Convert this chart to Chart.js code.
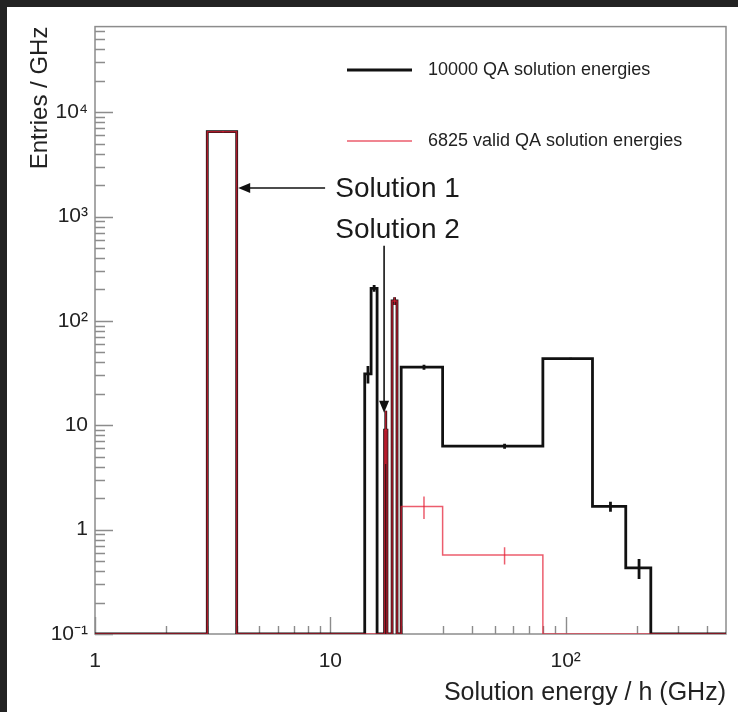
<!DOCTYPE html>
<html>
<head>
<meta charset="utf-8">
<script src="https://cdn.jsdelivr.net/npm/chart.js@4.4.1/dist/chart.umd.min.js"></script>
<style>
  html, body { margin: 0; padding: 0; background: #232323; }
  #wrap { position: absolute; left: 7px; top: 7px; width: 731px; height: 705px; background: #ffffff; }
  canvas { display: block; }
</style>
</head>
<body>
<div id="wrap"><canvas id="c" width="731" height="705"></canvas></div>
<script>
// Variable-width energy bins (GHz) and entries per GHz in each bin
const binEdges = [1, 3, 4, 14, 14.9, 15.8, 17.0, 17.4, 18.3, 19.2, 20, 30, 80, 130, 180, 230, 480];
const allEnergies = [0, 6500, 0, 31, 205, 0, 9, 0, 155, 0, 36, 6.3, 43.5, 1.67, 0.43, 0];
const validEnergies = [0, 6500, 0, 0, 0, 0, 9, 0, 155, 0, 1.67, 0.57, 0, 0, 0, 0];
const seriesLabels = ['10000 QA solution energies', '6825 valid QA solution energies'];

const xTickValues = [1, 10, 100];
const xTickLabels = ['1', '10', '10²'];
const yTickValues = [0.1, 1, 10, 100, 1000, 10000];
const yTickLabels = ['10⁻¹', '1', '10', '10²', '10³', '10⁴'];

const X_MIN = 1, X_MAX = 480, Y_MIN = 0.1, Y_MAX = 6.6e4;
const FONT = "'Liberation Sans', Arial, Helvetica, sans-serif";
const BLACK = '#111111';
const RED = 'rgba(228, 30, 52, 0.72)';
const FRAME = '#8c8c8c';

// Annotation anchors in data units (GHz, entries/GHz)
const notes = [
  { text: 'Solution 1', x: 10.5, y: 1830, arrowFrom: [9.5, 1875], arrowTo: [4.06, 1875] },
  { text: 'Solution 2', x: 10.5, y: 745, arrowFrom: [16.92, 524], arrowTo: [16.92, 13.2] }
];

// Step outline of a histogram; empty bins sit on the lower edge of the log axis
function outline(edges, vals) {
  const pts = [{ x: edges[0], y: Y_MIN }];
  vals.forEach((v, i) => {
    const y = Math.max(v, Y_MIN);
    pts.push({ x: edges[i], y: y }, { x: edges[i + 1], y: y });
  });
  pts.push({ x: edges[edges.length - 1], y: Y_MIN });
  return pts;
}

const seriesValues = [allEnergies, validEnergies];

function drawArrow(ctx, x0, y0, x1, y1) {
  const ang = Math.atan2(y1 - y0, x1 - x0);
  const len = 12, half = 5;
  ctx.beginPath();
  ctx.moveTo(x0, y0);
  ctx.lineTo(x1 - Math.cos(ang) * len * 0.8, y1 - Math.sin(ang) * len * 0.8);
  ctx.stroke();
  ctx.beginPath();
  ctx.moveTo(x1, y1);
  ctx.lineTo(x1 - Math.cos(ang) * len - Math.sin(ang) * half, y1 - Math.sin(ang) * len + Math.cos(ang) * half);
  ctx.lineTo(x1 - Math.cos(ang) * len + Math.sin(ang) * half, y1 - Math.sin(ang) * len - Math.cos(ang) * half);
  ctx.closePath();
  ctx.fill();
}

const histDecor = {
  id: 'histDecor',
  beforeDatasetsDraw(chart) {
    const { ctx, chartArea: a, scales: { x, y } } = chart;
    ctx.save();
    ctx.strokeStyle = FRAME;
    ctx.lineWidth = 1.5;
    ctx.strokeRect(a.left, a.top, a.right - a.left, a.bottom - a.top);
    ctx.lineWidth = 1.4;
    ctx.beginPath();
    for (let e = -1; e <= 4; e++) {
      for (let m = 1; m <= 9; m++) {
        const v = m * Math.pow(10, e);
        if (v < Y_MIN * 0.999 || v > Y_MAX) continue;
        const py = Math.round(y.getPixelForValue(v)) + 0.5;
        ctx.moveTo(a.left, py);
        ctx.lineTo(a.left + (m === 1 ? 18 : 10), py);
      }
    }
    for (let e = 0; e <= 2; e++) {
      for (let m = 1; m <= 9; m++) {
        const v = m * Math.pow(10, e);
        if (v < X_MIN * 0.999 || v > X_MAX) continue;
        const px = Math.round(x.getPixelForValue(v)) + 0.5;
        ctx.moveTo(px, a.bottom);
        ctx.lineTo(px, a.bottom - (m === 1 ? 17 : 8));
      }
    }
    ctx.stroke();
    ctx.restore();
  },
  afterDatasetDraw(chart, args) {
    // statistical error bars at bin centres: sqrt(N)/width
    const { ctx, chartArea: a, scales: { x, y } } = chart;
    const ds = chart.data.datasets[args.index];
    const vals = seriesValues[args.index];
    ctx.save();
    ctx.beginPath();
    ctx.rect(a.left, a.top, a.right - a.left, a.bottom - a.top);
    ctx.clip();
    ctx.strokeStyle = ds.borderColor;
    ctx.lineWidth = ds.borderWidth;
    ctx.beginPath();
    vals.forEach((v, i) => {
      if (v <= 0) return;
      const w = binEdges[i + 1] - binEdges[i];
      const err = Math.sqrt(v * w) / w;
      const px = x.getPixelForValue((binEdges[i] + binEdges[i + 1]) / 2);
      const lo = Math.max(v - err, Y_MIN);
      ctx.moveTo(px, y.getPixelForValue(lo));
      ctx.lineTo(px, y.getPixelForValue(v + err));
    });
    ctx.stroke();
    ctx.restore();
  },
  afterDraw(chart) {
    const { ctx, scales: { x, y } } = chart;
    ctx.save();
    // legend
    const rows = [
      { color: BLACK, width: 3, ty: 63 },
      { color: RED, width: 1.5, ty: 134 }
    ];
    rows.forEach((r, i) => {
      ctx.strokeStyle = r.color;
      ctx.lineWidth = r.width;
      ctx.beginPath();
      ctx.moveTo(340, r.ty);
      ctx.lineTo(405, r.ty);
      ctx.stroke();
      ctx.fillStyle = '#222';
      ctx.font = '18px ' + FONT;
      ctx.textBaseline = 'middle';
      ctx.textAlign = 'left';
      ctx.fillText(seriesLabels[i], 421, r.ty);
    });
    // annotations
    ctx.strokeStyle = '#111';
    ctx.lineWidth = 1.6;
    notes.forEach(n => {
      ctx.fillStyle = '#111';
      drawArrow(ctx,
        x.getPixelForValue(n.arrowFrom[0]), y.getPixelForValue(n.arrowFrom[1]),
        x.getPixelForValue(n.arrowTo[0]), y.getPixelForValue(n.arrowTo[1]));
      ctx.font = '28px ' + FONT;
      ctx.textBaseline = 'middle';
      ctx.textAlign = 'left';
      ctx.fillStyle = '#1a1a1a';
      ctx.fillText(n.text, x.getPixelForValue(n.x), y.getPixelForValue(n.y));
    });
    ctx.restore();
  }
};

new Chart(document.getElementById('c'), {
  type: 'line',
  data: {
    datasets: [
      {
        label: seriesLabels[0],
        data: outline(binEdges, allEnergies),
        borderColor: BLACK,
        borderWidth: 2.8,
        pointRadius: 0,
        tension: 0,
        fill: false,
        borderJoinStyle: 'miter',
        order: 1
      },
      {
        label: seriesLabels[1],
        data: outline(binEdges, validEnergies),
        borderColor: RED,
        borderWidth: 1.5,
        pointRadius: 0,
        tension: 0,
        fill: false,
        borderJoinStyle: 'miter',
        order: 0
      }
    ]
  },
  options: {
    responsive: false,
    animation: false,
    events: [],
    layout: { padding: { left: 0, right: 12, top: 18, bottom: 0 } },
    plugins: { legend: { display: false }, tooltip: { enabled: false } },
    scales: {
      x: {
        type: 'logarithmic',
        position: 'bottom',
        min: X_MIN,
        max: X_MAX,
        grid: { display: false, drawTicks: false },
        border: { display: false },
        afterBuildTicks: s => { s.ticks = xTickValues.map(v => ({ value: v })); },
        afterFit: s => { s.height = 78; },
        ticks: {
          autoSkip: false,
          maxRotation: 0,
          padding: 15,
          color: '#222',
          font: { family: FONT, size: 21 },
          callback: (v, i) => xTickLabels[i]
        },
        title: {
          display: true,
          text: 'Solution energy / h (GHz)',
          align: 'end',
          color: '#222',
          font: { family: FONT, size: 25 },
          padding: { top: 0, bottom: 4 }
        }
      },
      y: {
        type: 'logarithmic',
        position: 'left',
        min: Y_MIN,
        max: Y_MAX,
        grid: { display: false, drawTicks: false },
        border: { display: false },
        afterBuildTicks: s => { s.ticks = yTickValues.map(v => ({ value: v })); },
        afterFit: s => { s.width = 88; },
        ticks: {
          autoSkip: false,
          padding: 7,
          color: '#222',
          font: { family: FONT, size: 21 },
          callback: (v, i) => yTickLabels[i]
        },
        title: {
          display: true,
          text: 'Entries / GHz',
          align: 'end',
          color: '#222',
          font: { family: FONT, size: 24 },
          padding: { top: 19, bottom: 0 }
        }
      }
    }
  },
  plugins: [histDecor]
});
</script>
</body>
</html>
